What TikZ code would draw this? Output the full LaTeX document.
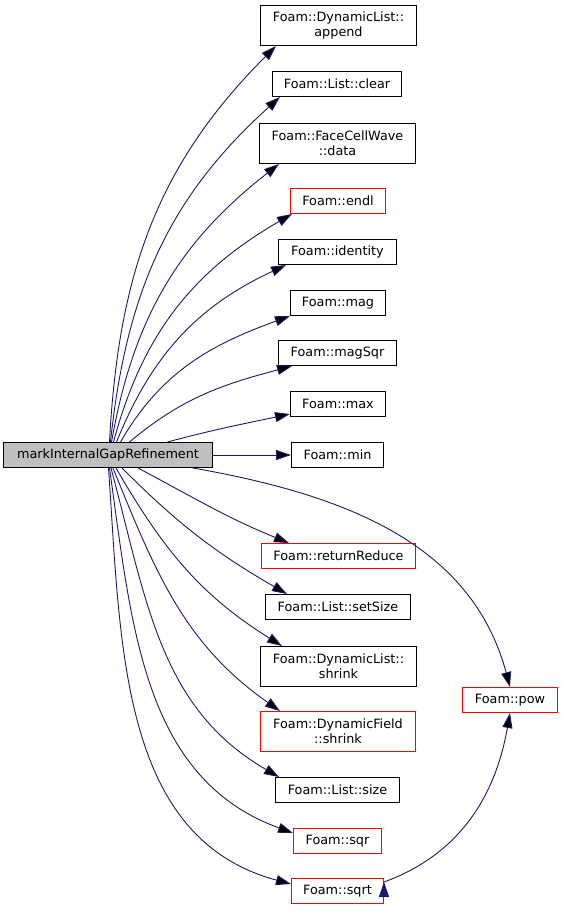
\documentclass[tikz,border=0pt]{standalone}
\usepackage{fontspec}
\setmainfont{DejaVu Sans}
\usetikzlibrary{arrows.meta, positioning}
\definecolor{callblue}{HTML}{191970}
\definecolor{boxred}{HTML}{FF0000}
\tikzset{
  call/.style={-{Triangle[length=15pt,width=10pt]}, draw=callblue,
    line width=0.9pt}, % the edges of the graph, with
  % filled arrow heads as doxygen draws them
  every node/.style={font=\fontsize{12.8}{15}\selectfont}, % text size of
  % all boxes
}

\begin{document}
\begin{tikzpicture}[x=1pt, y=-1pt,
  fn/.style = {draw=black, line width=1pt, inner sep=0pt, align=center,
    minimum height=25pt},
  fnred/.style = {fn, draw=boxred},
  root/.style = {fn, fill=black!25}]

  \useasboundingbox (0,0) rectangle (563,910);

  \node[root, minimum width=209pt] (main) at (108,455) {markInternalGapRefinement};

  \node[fn, minimum width=156pt, minimum height=40pt] (append) at (338.5,25.5) {Foam::DynamicList::\\append};
  \node[fn, minimum width=129pt] (clear) at (337,84) {Foam::List::clear};
  \node[fn, minimum width=156pt, minimum height=40pt] (data) at (337.5,143.5) {Foam::FaceCellWave\\::data};
  \node[fnred, minimum width=95pt] (endl) at (338,201) {Foam::endl};
  \node[fn, minimum width=118pt] (identity) at (337.5,252) {Foam::identity};
  \node[fn, minimum width=95pt] (mag) at (338,303) {Foam::mag};
  \node[fn, minimum width=118pt] (magSqr) at (337.5,353) {Foam::magSqr};
  \node[fn, minimum width=95pt] (max) at (338,404) {Foam::max};
  \node[fn, minimum width=92pt] (min) at (337.5,455) {Foam::min};
  \node[fnred, minimum width=154pt] (returnReduce) at (338.5,556) {Foam::returnReduce};
  \node[fn, minimum width=145pt] (setSize) at (338,607) {Foam::List::setSize};
  \node[fn, minimum width=156pt, minimum height=40pt] (listShrink) at (338.5,666.5) {Foam::DynamicList::\\shrink};
  \node[fnred, minimum width=155pt, minimum height=40pt] (fieldShrink) at (338,731.5) {Foam::DynamicField\\::shrink};
  \node[fn, minimum width=124pt] (size) at (337.5,790) {Foam::List::size};
  \node[fnred, minimum width=88pt] (sqr) at (337.5,841) {Foam::sqr};
  \node[fnred, minimum width=92pt] (sqrt) at (337.5,891) {Foam::sqrt};
  \node[fnred, minimum width=95pt] (pow) at (510,700) {Foam::pow};

  \draw[call]
  ([xshift=1.5pt]main.north) edge[out=87, in=225] ([xshift=16pt]append.south west)
  ([xshift=2.5pt]main.north) edge[out=84, in=222] ([xshift=8pt]clear.south west)
  ([xshift=3.5pt]main.north) edge[out=80, in=218] ([xshift=20pt]data.south west)
  ([xshift=5.5pt]main.north) edge[out=75, in=210] ([xshift=2pt]endl.south west)
  ([xshift=8.5pt]main.north) edge[out=68, in=205] ([xshift=8pt]identity.south west)
  ([xshift=12.5pt]main.north) edge[out=60, in=200] (mag.south west)
  ([xshift=21.5pt]main.north) edge[out=40, in=195] ([xshift=14pt]magSqr.south west)
  ([xshift=59.5pt]main.north) edge[out=15, in=192] ([yshift=3pt]max.south west)
  (main.east) edge (min.west)
  ([xshift=-20pt]main.south east) edge[out=-10, in=105] (pow.north)
  ([xshift=30pt]main.south) edge[out=-28, in=158] ([xshift=28pt]returnReduce.north west)
  ([xshift=14pt]main.south) edge[out=-45, in=150] ([xshift=22pt]setSize.north west)
  ([xshift=8pt]main.south) edge[out=-60, in=148] ([xshift=22pt]listShrink.north west)
  ([xshift=5pt]main.south) edge[out=-68, in=145] ([xshift=20pt]fieldShrink.north west)
  ([xshift=3pt]main.south) edge[out=-75, in=150] ([xshift=4pt]size.north west)
  ([xshift=1.5pt]main.south) edge[out=-82, in=160] ([yshift=8pt]sqr.west)
  ([xshift=0.5pt]main.south) edge[out=-86, in=165] ([yshift=7pt]sqrt.west)
  ([yshift=9pt]sqrt.east) edge[out=20, in=-100] (pow.south)
  ;
\end{tikzpicture}
\end{document}
